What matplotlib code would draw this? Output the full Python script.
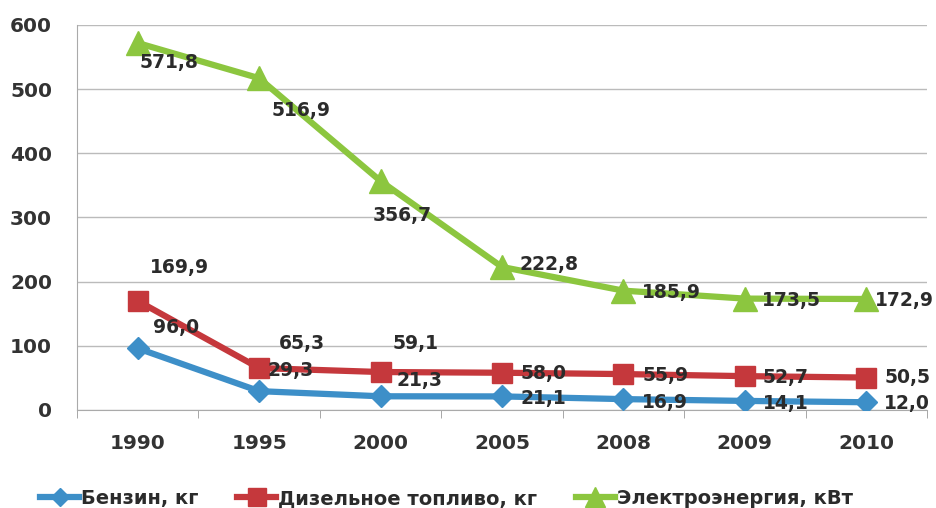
import numpy as np
import matplotlib.pyplot as plt
from matplotlib.ticker import FixedLocator

# данные
years = ['1990', '1995', '2000', '2005', '2008', '2009', '2010']
benzin = [96.0, 29.3, 21.3, 21.1, 16.9, 14.1, 12.0]
diesel = [169.9, 65.3, 59.1, 58.0, 55.9, 52.7, 50.5]
electro = [571.8, 516.9, 356.7, 222.8, 185.9, 173.5, 172.9]

# смещения подписей (пиксели)
off_benzin = [(15, 21), (8, 21), (16, 16), (19, -2), (19, -3), (18, -3), (18, -1)]
off_diesel = [(12, 33), (20, 25), (12, 29), (19, -1), (19, -1), (18, -1), (18, 0)]
off_electro = [(2, -20), (12, -32), (-8, -34), (18, 2), (19, -2), (17, -2), (9, -2)]

plt.rcParams['font.family'] = ['DejaVu Sans']

fig = plt.figure(figsize=(9.36, 5.08), dpi=100)
ax = fig.add_axes([0.0823, 0.193, 0.908, 0.758])

x = np.arange(len(years))
series = [
    (benzin, 'Бензин, кг', '#3d8fc8', 'D', 11, off_benzin),
    (diesel, 'Дизельное топливо, кг', '#c5383c', 's', 15, off_diesel),
    (electro, 'Электроэнергия, кВт', '#8cc63f', '^', 17, off_electro),
]
for vals, name, col, mk, ms, offs in series:
    ax.plot(x, vals, color=col, lw=4.5, marker=mk, markersize=ms,
            markerfacecolor=col, markeredgecolor=col, label=name, zorder=3)
    for xi, v, off in zip(x, vals, offs):
        ax.annotate(f'{v:.1f}'.replace('.', ','), (xi, v), xytext=off,
                    textcoords='offset pixels', ha='left', va='center',
                    fontsize=13.5, fontweight='bold', color='#2b2b2b', zorder=4)

ax.set_xlim(-0.5, 6.5)
ax.set_ylim(0, 600)
ax.set_yticks(range(0, 601, 100))
ax.set_xticks(x)
ax.set_xticklabels(years)
ax.xaxis.set_minor_locator(FixedLocator(np.arange(-0.5, 7, 1)))
ax.tick_params(axis='x', which='major', length=0, pad=17)
ax.tick_params(axis='x', which='minor', length=6, color='#999999', direction='out')
ax.tick_params(axis='y', length=0, pad=18)
for lab in ax.get_xticklabels() + ax.get_yticklabels():
    lab.set_fontsize(14.5)
    lab.set_fontweight('bold')
    lab.set_color('#333333')

ax.grid(axis='y', color='#bbbbbb', lw=1)
ax.set_axisbelow(True)
for s in ['top', 'right']:
    ax.spines[s].set_visible(False)
ax.spines['left'].set_color('#aaaaaa')
ax.spines['bottom'].set_color('#aaaaaa')

leg = fig.legend(loc='lower center', bbox_to_anchor=(0.477, -0.035), ncol=3,
                 frameon=False, handlelength=2.0, columnspacing=2.0,
                 handletextpad=0.1, markerscale=0.85,
                 prop={'size': 14, 'weight': 'bold'})
for t in leg.get_texts():
    t.set_color('#2b2b2b')

fig.savefig('out.png', dpi=100)
